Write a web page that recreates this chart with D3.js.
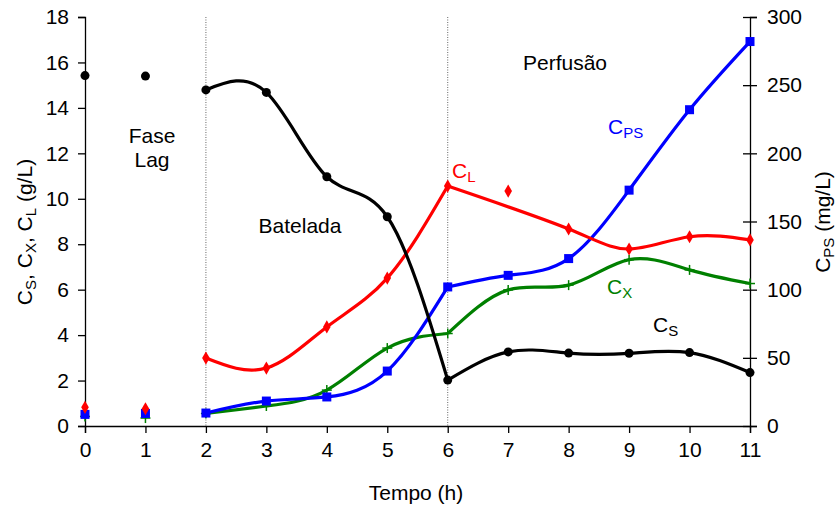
<!DOCTYPE html>
<html>
<head>
<meta charset="utf-8">
<script src="https://cdn.jsdelivr.net/npm/d3@7"></script>
<style>
  body { margin: 0; background: #fff; }
  svg { font-family: "Liberation Sans", Arial, sans-serif; }
</style>
</head>
<body>
<svg id="chart" width="837" height="506"></svg>
<script>
// Time points (h)
const tempo = [0, 1, 2, 3, 4, 5, 6, 7, 8, 9, 10, 11];
// Substrate C_S (g/L)
const cs = [15.42, 15.4, 14.79, 14.68, 10.97, 9.21, 2.02, 3.26, 3.21, 3.2, 3.23, 2.35];
// Product C_L (g/L)
const cl = [0.82, 0.76, 2.99, 2.55, 4.36, 6.51, 10.56, 10.34, 8.67, 7.79, 8.33, 8.19];
// Biomass C_X (g/L)
const cx = [0.42, 0.35, 0.55, 0.88, 1.58, 3.43, 4.07, 5.99, 6.2, 7.32, 6.87, 6.27];
// Polysaccharide C_PS (mg/L)
const cps = [8.5, 9.2, 9.5, 18.3, 21.3, 40.3, 102, 110.5, 122.8, 173, 232, 282];

// Phase boundaries and the points joined by each phase's curve
const phaseBounds = [2, 6];
const batchIdx = [2, 3, 4, 5, 6];
const perfIdx = [6, 7, 8, 9, 10, 11];
const perfIdxCL = [6, 8, 9, 10, 11];

const leftTicks = [0, 2, 4, 6, 8, 10, 12, 14, 16, 18];
const rightTicks = [0, 50, 100, 150, 200, 250, 300];

const svg = d3.select("#chart");
const margin = { left: 85, right: 87, top: 17, bottom: 80 };
const W = 837, H = 506;

const x = d3.scaleLinear().domain([0, 11]).range([margin.left, W - margin.right]);
const yL = d3.scaleLinear().domain([0, 18]).range([H - margin.bottom, margin.top]);
const yR = d3.scaleLinear().domain([0, 300]).range([H - margin.bottom, margin.top]);

const fs = 21;
const subFs = 15;
const subDy = 3.5;

// Phase separators
svg.selectAll("line.phase").data(phaseBounds).join("line")
  .attr("x1", d => x(d)).attr("x2", d => x(d))
  .attr("y1", yL(18)).attr("y2", yL(0))
  .attr("stroke", "#666").attr("stroke-width", 1).attr("stroke-dasharray", "1,1.5");

// Axes
const gx = svg.append("g").attr("transform", `translate(0,${yL(0)})`)
  .call(d3.axisBottom(x).tickValues(tempo).tickSize(7).tickPadding(9));
const gl = svg.append("g").attr("transform", `translate(${margin.left},0)`)
  .call(d3.axisLeft(yL).tickValues(leftTicks).tickSize(7).tickPadding(9));
const gr = svg.append("g").attr("transform", `translate(${W - margin.right},0)`)
  .call(d3.axisRight(yR).tickValues(rightTicks).tickSize(7).tickPadding(10));
gr.selectAll(".tick line").attr("x1", -7);
[gx, gl, gr].forEach(g => {
  g.select(".domain").attr("stroke", "#000").attr("stroke-width", 1.3);
  g.selectAll(".tick line").attr("stroke", "#000").attr("stroke-width", 1.3);
  g.selectAll(".tick text").attr("font-size", fs).attr("fill", "#000")
    .attr("font-family", "Liberation Sans, Arial, sans-serif");
});

// Smoothed curves, one per phase
const curve = d3.curveNatural;
function drawLine(idx, vals, yScale, color) {
  const line = d3.line().curve(curve)
    .x(i => x(tempo[i])).y(i => yScale(vals[i]));
  svg.append("path").attr("d", line(idx))
    .attr("fill", "none").attr("stroke", color).attr("stroke-width", 3.2)
    .attr("stroke-linejoin", "round");
}

// Markers
function circles(vals, yScale, color) {
  svg.append("g").selectAll("circle").data(tempo).join("circle")
    .attr("cx", (d) => x(d)).attr("cy", (d, i) => yScale(vals[i]))
    .attr("r", 4.5).attr("fill", color);
}
function squares(vals, yScale, color) {
  svg.append("g").selectAll("rect").data(tempo).join("rect")
    .attr("x", d => x(d) - 4.5).attr("y", (d, i) => yScale(vals[i]) - 4.5)
    .attr("width", 9).attr("height", 9).attr("fill", color);
}
function diamonds(vals, yScale, color) {
  const sym = d3.symbol().type(d3.symbolDiamond).size(50);
  svg.append("g").selectAll("path").data(tempo).join("path")
    .attr("transform", (d, i) => `translate(${x(d)},${yScale(vals[i])})`)
    .attr("d", sym).attr("fill", color);
}
function pluses(vals, yScale, color) {
  const g = svg.append("g").attr("stroke", color).attr("stroke-width", 1.5);
  tempo.forEach((d, i) => {
    const cx0 = x(d), cy0 = yScale(vals[i]);
    g.append("line").attr("x1", cx0 - 5).attr("x2", cx0 + 5).attr("y1", cy0).attr("y2", cy0);
    g.append("line").attr("x1", cx0).attr("x2", cx0).attr("y1", cy0 - 5).attr("y2", cy0 + 5);
  });
}

drawLine(batchIdx, cx, yL, "#008000");
drawLine(perfIdx, cx, yL, "#008000");
pluses(cx, yL, "#008000");

drawLine(batchIdx, cps, yR, "#0000ff");
drawLine(perfIdx, cps, yR, "#0000ff");
squares(cps, yR, "#0000ff");

drawLine(batchIdx, cl, yL, "#ff0000");
drawLine(perfIdxCL, cl, yL, "#ff0000");
diamonds(cl, yL, "#ff0000");

drawLine(batchIdx, cs, yL, "#000000");
drawLine(perfIdx, cs, yL, "#000000");
circles(cs, yL, "#000000");

// Text with a subscript and optional tail
function subText(parent, main, sub, tail) {
  parent.append("tspan").text(main);
  parent.append("tspan").attr("font-size", subFs).attr("dy", subDy).text(sub);
  if (tail) parent.append("tspan").attr("dy", -subDy).text(tail);
}
function label(xx, yy, main, sub, color) {
  const t = svg.append("text").attr("x", xx).attr("y", yy)
    .attr("fill", color).attr("font-size", fs);
  subText(t, main, sub);
}

// Series labels
label(608, 134, "C", "PS", "#0000ff");
label(452, 178, "C", "L", "#ff0000");
label(607, 294, "C", "X", "#008000");
label(653, 332, "C", "S", "#000000");

// Phase labels
const phaseText = [
  { t: "Fase", x: 152, y: 143 },
  { t: "Lag", x: 152, y: 167 },
  { t: "Batelada", x: 300, y: 233 },
  { t: "Perfusão", x: 565, y: 70 }
];
svg.append("g").selectAll("text").data(phaseText).join("text")
  .attr("x", d => d.x).attr("y", d => d.y).attr("text-anchor", "middle")
  .attr("font-size", fs).text(d => d.t);

// Axis titles
svg.append("text").attr("x", 416).attr("y", 500).attr("text-anchor", "middle")
  .attr("font-size", fs).text("Tempo (h)");

const lt = svg.append("text").attr("transform", `translate(32,232) rotate(-90)`)
  .attr("text-anchor", "middle").attr("font-size", fs);
subText(lt, "C", "S", ", ");
subText(lt, "C", "X", ", ");
subText(lt, "C", "L", " (g/L)");

const rt = svg.append("text").attr("transform", `translate(830,222) rotate(-90)`)
  .attr("text-anchor", "middle").attr("font-size", fs);
subText(rt, "C", "PS", " (mg/L)");
</script>
</body>
</html>
